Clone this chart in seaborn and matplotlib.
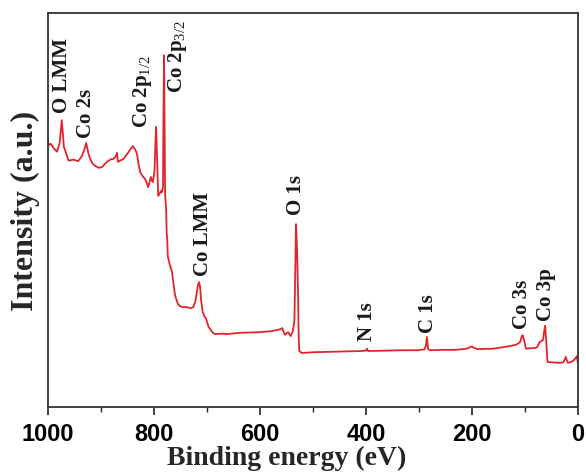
import pandas as pd
import matplotlib.pyplot as plt
import seaborn as sns
from matplotlib.ticker import MultipleLocator

# XPS survey spectrum
binding_energy = [1000, 998, 995, 988, 983, 978, 974, 970, 966, 961, 952, 943, 936, 931, 928,
                  924, 921, 916, 911, 904, 898, 892, 887, 881, 877, 872, 870, 868, 863, 858,
                  853, 849, 844, 840, 836, 832, 829, 826, 821, 817, 814, 811, 808, 806, 804,
                  802, 799, 797, 796, 794, 792, 789, 787, 785, 783, 782, 781, 780, 779, 777,
                  776, 775, 774, 770, 766, 763, 760, 755, 751, 745, 740, 732, 726, 722, 719,
                  717, 715, 713, 711, 708, 705, 702, 700, 697, 694, 690, 685, 670, 662, 640,
                  620, 600, 581, 565, 558, 553, 549, 547, 542, 538, 535, 533, 532, 530, 528,
                  527, 526, 521, 500, 470, 440, 410, 400, 398, 396, 360, 330, 304, 290, 287,
                  285, 283, 280, 255, 230, 210, 200, 198, 190, 160, 140, 123, 115, 109, 106,
                  104, 101, 98, 90, 80, 77, 72, 66, 64, 62, 60, 58, 57, 45, 35,
                  28, 25, 23, 21, 19, 14, 9, 4, 2, 0]
intensity = [67.3, 66.5, 66.8, 65.5, 64.8, 67.0, 72.8, 66.0, 64.5, 62.5, 62.8, 62.4, 63.7, 65.5, 67.0,
             64.5, 63.2, 61.8, 61.2, 60.7, 60.9, 61.8, 62.4, 62.9, 62.9, 63.6, 64.5, 62.2, 62.6, 62.9,
             63.8, 64.5, 65.5, 66.2, 65.5, 64.2, 61.5, 59.6, 58.5, 57.9, 57.0, 55.8, 57.2, 58.4, 57.5,
             57.1, 60.0, 68.0, 71.1, 62.0, 53.6, 54.2, 54.8, 54.5, 56.0, 75.0, 89.3, 70.0, 54.0, 50.0,
             44.0, 42.6, 38.3, 36.0, 34.3, 31.0, 28.2, 26.2, 25.6, 25.3, 25.4, 25.1, 25.3, 26.8, 29.2,
             31.0, 31.7, 30.5, 27.0, 24.1, 23.0, 22.5, 21.6, 20.3, 19.8, 19.0, 18.5, 18.6, 18.5, 18.8,
             18.9, 19.0, 19.2, 19.6, 20.0, 18.3, 18.8, 19.0, 18.0, 19.3, 22.0, 38.0, 46.4, 40.0, 27.4,
             18.0, 14.2, 13.7, 13.9, 14.0, 14.1, 14.2, 14.3, 14.8, 14.2, 14.3, 14.4, 14.4, 14.6, 15.5,
             17.8, 14.8, 14.4, 14.5, 14.5, 14.8, 15.4, 15.1, 14.7, 14.8, 15.2, 15.6, 15.9, 16.5, 18.0,
             18.2, 16.5, 14.8, 14.9, 15.0, 15.2, 16.5, 17.0, 19.0, 20.6, 17.0, 12.2, 11.4, 11.3, 11.2,
             11.3, 12.0, 12.7, 11.8, 11.2, 11.4, 11.7, 12.5, 12.9, 10.9]

# peak labels: text, energy, intensity where the label starts
peak_labels = ['O LMM', 'Co 2s', r'Co 2p$_{1/2}$', r'Co 2p$_{3/2}$', 'Co LMM',
               'O 1s', 'N 1s', 'C 1s', 'Co 3s', 'Co 3p']
label_x = [974, 928, 821, 755, 708, 532, 398, 283, 106, 60]
label_y = [75.0, 68.5, 71.0, 80.0, 33.5, 49.0, 17.0, 19.0, 20.0, 22.0]

x_ticks = [1000, 800, 600, 400, 200, 0]
x_ticklabels = ['1000', '800', '600', '400', '200', '0']

df = pd.DataFrame({'Binding energy': binding_energy, 'Intensity': intensity})

sns.set_style('ticks')
plt.rcParams['font.family'] = ['Liberation Serif', 'DejaVu Serif']
plt.rcParams['mathtext.fontset'] = 'custom'
plt.rcParams['mathtext.rm'] = 'Liberation Serif'
plt.rcParams['mathtext.it'] = 'Liberation Serif'

fig = plt.figure(figsize=(5.86, 4.77), dpi=100)
ax = fig.add_axes([0.0819, 0.1447, 0.9044, 0.8259])

sns.lineplot(data=df, x='Binding energy', y='Intensity', color='#e3242b', linewidth=1.3, ax=ax)

for txt, x, y in zip(peak_labels, label_x, label_y):
    ax.text(x, y, txt, rotation=90, ha='center', va='bottom',
            fontsize=15, fontweight='bold', color='#1a1a1a')

ax.set_xlim(1000, 0)
ax.set_ylim(0, 100)
ax.set_yticks([])
ax.set_xticks(x_ticks)
ax.set_xticklabels(x_ticklabels, fontfamily='Liberation Sans', fontweight='bold',
                   fontsize=17, color='black')
ax.xaxis.set_minor_locator(MultipleLocator(100))
ax.tick_params(axis='x', which='major', direction='out', length=6, width=1.2, pad=5,
               color='#222222')
ax.tick_params(axis='x', which='minor', direction='out', length=3.5, width=1.0,
               color='#222222')

for side in ['left', 'right', 'top', 'bottom']:
    ax.spines[side].set_visible(True)
    ax.spines[side].set_linewidth(1.3)
    ax.spines[side].set_color('#333333')

ax.set_xlabel('Binding energy (eV)', fontsize=20, fontweight='bold')
ax.set_ylabel('Intensity (a.u.)', fontsize=23, fontweight='bold')
ax.xaxis.set_label_coords(0.45, -0.095)
ax.yaxis.set_label_coords(-0.015, 0.5)

fig.savefig('out.png', dpi=100)
